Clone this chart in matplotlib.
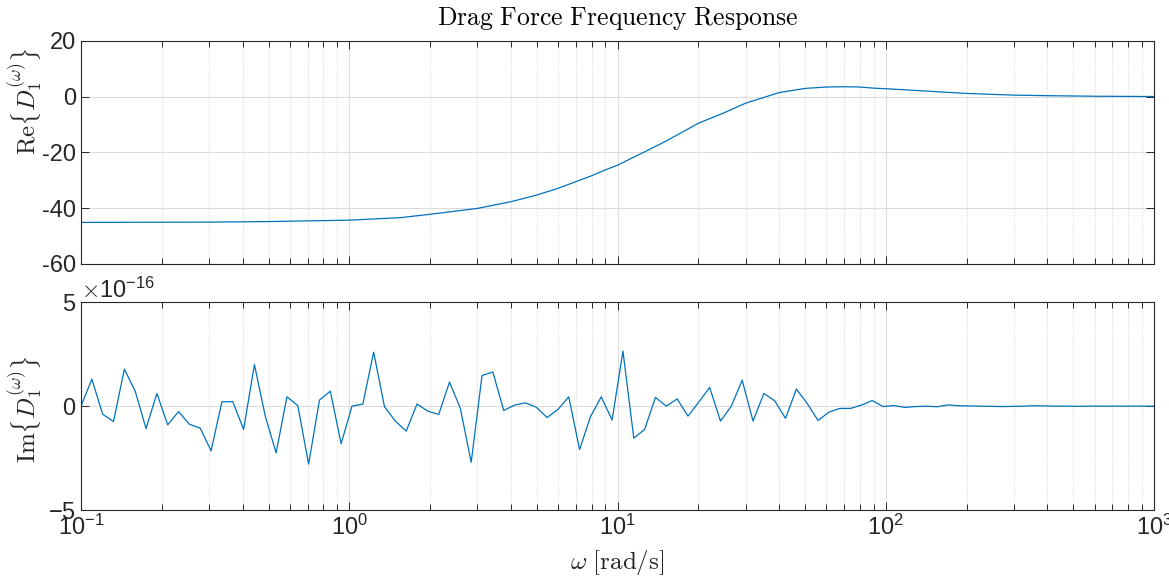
import numpy as np
import matplotlib
matplotlib.use('Agg')
import matplotlib.pyplot as plt
from matplotlib.ticker import ScalarFormatter, LogLocator, NullFormatter

w_re = [0.1, 0.3, 0.5, 1.0, 1.55, 2, 3, 4, 5, 6, 7, 8, 9, 10, 13, 15, 20, 25,
        30, 40, 50, 60, 70, 80, 90, 100, 200, 300, 400, 600, 1000]
re_d1 = [-45.1, -45.0, -44.8, -44.3, -43.4, -42.2, -40.1, -37.7, -35.3, -32.9,
         -30.5, -28.4, -26.3, -24.6, -19.2, -16.2, -9.6, -5.8, -2.4, 1.4, 2.9,
         3.4, 3.5, 3.4, 3.0, 2.8, 1.1, 0.5, 0.3, 0.1, 0.0]

# imaginary part (units of 1e-16), 100 log-spaced frequencies 0.1..1000 rad/s
w_im = np.logspace(-1, 3, 100)
im_d1 = [0.0, 1.3, -0.39, -0.74, 1.78, 0.72, -1.08, 0.61, -0.9, -0.26,
         -0.87, -1.06, -2.15, 0.21, 0.22, -1.12, 2.0, -0.48, -2.25, 0.45,
         0.03, -2.79, 0.29, 0.72, -1.81, 0.0, 0.1, 2.6, -0.03, -0.72,
         -1.2, 0.1, -0.24, -0.4, 1.16, -0.11, -2.7, 1.48, 1.64, -0.21,
         0.05, 0.16, -0.05, -0.55, -0.16, 0.45, -2.09, -0.51, 0.45, -0.67,
         2.65, -1.54, -1.12, 0.42, 0.0, 0.35, -0.48, 0.2, 0.9, -0.72,
         0.0, 1.25, -0.72, 0.61, 0.26, -0.59, 0.82, 0.13, -0.69, -0.29,
         -0.11, -0.11, 0.05, 0.27, -0.02, 0.03, -0.06, -0.02, 0.0, -0.03,
         0.06, 0.02, 0.01, 0.0, -0.01, -0.02, -0.01, 0.0, 0.02, 0.01,
         0.0, 0.0, -0.01, 0.0, 0.0, 0.0, 0.0, 0.0, 0.0, 0.0]
im_d1 = np.array(im_d1) * 1e-16

plt.rcParams['font.family'] = ['Liberation Sans', 'DejaVu Sans']
plt.rcParams['mathtext.fontset'] = 'cm'
plt.rcParams['axes.unicode_minus'] = False

line_c = '#0072BD'
dark = '#262626'

fig = plt.figure(figsize=(11.69, 5.83), dpi=100)
ax1 = fig.add_axes([0.0693, 0.5472, 0.9179, 0.3830])
ax2 = fig.add_axes([0.0693, 0.1252, 0.9179, 0.3563])

ax1.semilogx(w_re, re_d1, color=line_c, lw=0.9)
ax2.semilogx(w_im, im_d1, color=line_c, lw=0.9)

for ax in (ax1, ax2):
    ax.set_xlim(0.1, 1000)
    ax.xaxis.set_major_locator(LogLocator(base=10, numticks=10))
    ax.xaxis.set_minor_locator(LogLocator(base=10, subs=np.arange(2, 10), numticks=50))
    ax.xaxis.set_minor_formatter(NullFormatter())
    ax.grid(True, which='major', color='#dcdcdc', lw=0.8)
    ax.grid(True, which='minor', axis='x', color='#d4d4d4', lw=0.7, ls=':')
    ax.set_axisbelow(True)
    ax.tick_params(which='both', direction='in', top=True, right=True,
                   colors=dark, labelsize=17, width=0.7)
    ax.tick_params(which='major', length=6)
    ax.tick_params(which='minor', length=4)
    for s in ax.spines.values():
        s.set_color(dark)
        s.set_linewidth(0.8)

ax1.set_ylim(-60, 20)
ax1.set_yticks([-60, -40, -20, 0, 20])
ax1.tick_params(axis='x', labelbottom=False)
ax1.set_ylabel(r'$\mathrm{Re}\{D_1^{(\omega)}\}$', fontsize=18, color=dark)
ax1.yaxis.set_label_coords(-0.034, 0.73)
ax1.set_title(r'$\mathrm{Drag\ Force\ Frequency\ Response}$', fontsize=18.5,
              color='black', pad=11)

ax2.set_ylim(-5e-16, 5e-16)
ax2.set_yticks([-5e-16, 0, 5e-16])
fmt = ScalarFormatter(useMathText=True)
fmt.set_powerlimits((0, 0))
ax2.yaxis.set_major_formatter(fmt)
ax2.yaxis.get_offset_text().set_fontsize(17)
ax2.yaxis.get_offset_text().set_color(dark)
ax2.set_ylabel(r'$\mathrm{Im}\{D_1^{(\omega)}\}$', fontsize=18, color=dark)
ax2.yaxis.set_label_coords(-0.034, 0.485)
ax2.set_xlabel(r'$\omega\ \mathrm{[rad/s]}$', fontsize=18, color=dark, labelpad=6)

fig.savefig('out.png', dpi=100)
